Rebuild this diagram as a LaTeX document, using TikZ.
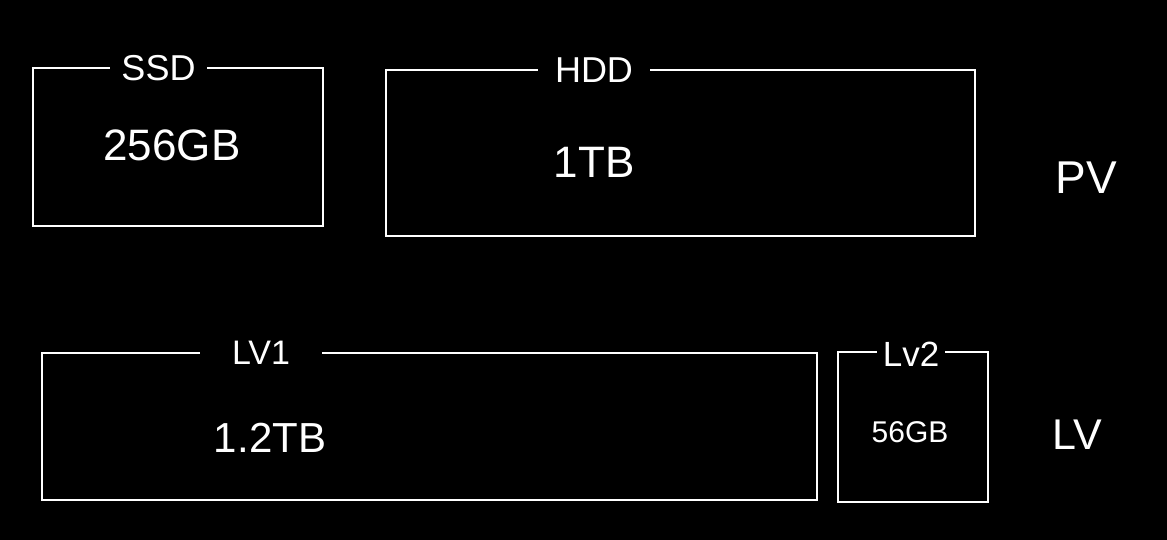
\documentclass[tikz,border=0pt]{standalone}
\usepackage{fontspec}
\setmainfont{Liberation Sans}
\begin{document}
\begin{tikzpicture}[x=1pt,y=-1pt,
  box/.style={draw=white,line width=2.6pt,rectangle,inner sep=0pt},
  title/.style={fill=black,text=white,inner sep=0pt,minimum height=20pt},
  txt/.style={text=white,inner sep=0pt}]
\fill[black] (0,0) rectangle (1167,540);
\useasboundingbox (0,0) rectangle (1167,540);
% PV row
\node[box,minimum width=290pt,minimum height=158pt] (ssd) at (178,147) {};
\node[title,minimum width=97pt,font=\fontsize{36}{40}\selectfont] (ssdt) at (158.5,68) {SSD};
\node[txt,font=\fontsize{44}{48}\selectfont] (ssdc) at (172,145) {256GB};
\node[box,minimum width=589pt,minimum height=166pt] (hdd) at (680.5,153) {};
\node[title,minimum width=112pt,font=\fontsize{36}{40}\selectfont] (hddt) at (594,70) {HDD};
\node[txt,font=\fontsize{44}{48}\selectfont] (hddc) at (594,162) {1TB};
\node[txt,font=\fontsize{46}{50}\selectfont] (pv) at (1086,178) {PV};
% LV row
\node[box,minimum width=775pt,minimum height=147pt] (lv1) at (429.5,426.5) {};
\node[title,minimum width=122pt,font=\fontsize{34}{38}\selectfont] (lv1t) at (261,353) {LV1};
\node[txt,font=\fontsize{42}{46}\selectfont] (lv1c) at (270,438) {1.2TB};
\node[box,minimum width=150pt,minimum height=150pt] (lv2) at (913,427) {};
\node[title,minimum width=68pt,font=\fontsize{35}{38}\selectfont] (lv2t) at (911,354) {Lv2};
\node[txt,font=\fontsize{30}{34}\selectfont] (lv2c) at (910,432) {56GB};
\node[txt,font=\fontsize{43}{46}\selectfont] (lv) at (1077,435) {LV};
\end{tikzpicture}
\end{document}
